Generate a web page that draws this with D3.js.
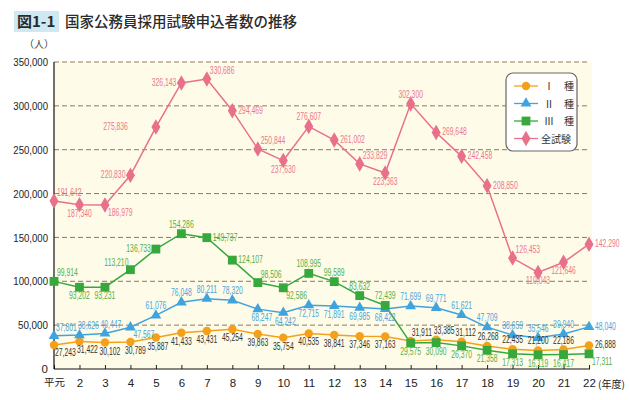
<!DOCTYPE html>
<html><head><meta charset="utf-8">
<script src="https://cdn.jsdelivr.net/npm/d3@7"></script>
<style>
body{margin:0;background:#fff;}
svg{display:block;}
</style></head>
<body>
<svg id="chart" width="630" height="400"></svg>
<script>
const years = ['平元','2','3','4','5','6','7','8','9','10','11','12','13','14','15','16','17','18','19','20','21','22'];
const seriesI = [27243,31422,30102,30789,35887,41433,43431,45254,39863,35754,40535,38841,37346,37163,31911,33385,31112,26268,22435,21200,22186,26888];
const seriesII = [37801,38626,40447,47567,61076,76048,80211,78320,68247,64242,72715,71891,69985,68422,71699,69771,61621,47709,38659,35546,39940,48040];
const seriesIII = [99914,93202,93231,113210,136733,154286,149737,124107,98506,92586,108995,99589,83632,72439,29575,30090,26370,21358,17313,16119,16417,17311];
const seriesAll = [191642,187340,186979,220830,275836,326143,330686,294469,250844,237630,276607,261002,233829,223363,302300,269648,242458,208850,126453,110043,121646,142290];
const yTicks = [0,50000,100000,150000,200000,250000,300000,350000];
const legendNames = ['Ⅰ　種','Ⅱ　種','Ⅲ　種','全試験'];

// label placement codes: direction + optional dx override
const placeI   = ['br1','b8','b5','b5','b2','b','b','b','b','b','b','b','b','b','ar1','a8','a4','a1','a','a','a','r'];
const placeII  = ['ar2','a9','a6','br','a','a','a','a','b4','b2','b','b','b','b','a','a','a','a','a','a','a','r'];
const placeIII = ['ar','b','b','al','l','a','r','r','ar','br','a','a','a','a','b','b','b','b','b','b','b','br'];
const placeAll = ['ar','b','br','l','L','l','ar','r','ar','b','a','r','ar','b','a','r','r','r','ar','b','b','r'];

const svg = d3.select('#chart');
const x = d3.scalePoint().domain(years).range([54, 589]);
const y = d3.scaleLinear().domain([0, 350000]).range([369, 62]);

// title
svg.append('rect').attr('x',14).attr('y',11).attr('width',45).attr('height',21).attr('fill','#cfe8f2');
svg.append('text').attr('x',17).attr('y',27).text('図1-1')
  .attr('font-family','"Noto Sans CJK JP", sans-serif').attr('font-size',15).attr('font-weight',700).attr('fill','#2b2b2b');
svg.append('text').attr('x',65).attr('y',27).text('国家公務員採用試験申込者数の推移')
  .attr('font-family','"Noto Sans CJK JP", sans-serif').attr('font-size',14.5).attr('font-weight',500).attr('fill','#2b2b2b');
svg.append('text').attr('x',24).attr('y',48).text('（人）')
  .attr('font-family','"Noto Sans CJK JP", sans-serif').attr('font-size',10).attr('fill','#444');

// plot background
svg.append('rect').attr('x',54).attr('y',y(350000)).attr('width',538).attr('height',y(0)-y(350000)).attr('fill','#fefbe9');

// gridlines
svg.append('g').selectAll('line').data(yTicks.filter(d=>d>0)).join('line')
  .attr('x1',54).attr('x2',590).attr('y1',d=>y(d)).attr('y2',d=>y(d))
  .attr('stroke','#8d7a58').attr('stroke-width',1).attr('stroke-dasharray','5,3');

const fmt = d3.format(',');
// y axis
const yAxis = svg.append('g').attr('transform','translate(54,0)')
  .call(d3.axisLeft(y).tickValues(yTicks).tickFormat(fmt).tickSize(0).tickPadding(6));
yAxis.select('.domain').remove();
yAxis.selectAll('text').attr('font-family','"Liberation Sans", sans-serif').attr('font-size',11.5).attr('fill','#222')
  .each(function(d){ const s = fmt(d); if (s.length>1){ d3.select(this).attr('textLength', s.length*4.6+2.5).attr('lengthAdjust','spacingAndGlyphs'); } });

// x axis
const xAxis = svg.append('g').attr('transform','translate(0,369)')
  .call(d3.axisBottom(x).tickSizeInner(-4).tickSizeOuter(0).tickPadding(10));
xAxis.select('.domain').remove();
xAxis.selectAll('line').attr('stroke','#222');
xAxis.selectAll('text').attr('font-family','"Liberation Sans", sans-serif').attr('font-size',11.5).attr('fill','#222');
xAxis.selectAll('text').filter(d=>d==='平元').attr('font-family','"Noto Sans CJK JP", sans-serif').attr('font-size',10.5);
svg.append('text').attr('x',598).attr('y',388).text('(年度)')
  .attr('font-family','"Noto Sans CJK JP", sans-serif').attr('font-size',10).attr('fill','#222');

// axis lines
svg.append('line').attr('x1',54).attr('x2',54).attr('y1',62).attr('y2',369).attr('stroke','#111').attr('stroke-width',1.2);
svg.append('line').attr('x1',54).attr('x2',590).attr('y1',369).attr('y2',369).attr('stroke','#111').attr('stroke-width',1.2);

const series = [
  {name: legendNames[0], values: seriesI, color:'#f5a01a', label:'#333333', sym:d3.symbolCircle, size:56, place:placeI},
  {name: legendNames[1], values: seriesII, color:'#3fa3dd', label:'#4aa6dc', sym:d3.symbolTriangle, size:50, place:placeII},
  {name: legendNames[2], values: seriesIII, color:'#36a83c', label:'#52b148', sym:d3.symbolSquare, size:78, place:placeIII},
  {name: legendNames[3], values: seriesAll, color:'#e9708a', label:'#ec7789', sym:d3.symbolDiamond, size:70, place:placeAll}
];

const off = {
  a:['middle',0,-6], b:['middle',0,12],
  r:['start',6,3], l:['end',-5,3],
  ar:['start',3,-5], al:['end',-2,-4], br:['start',3,11], bl:['end',-3,11], L:['end',-28,3]
};
function placement(code){
  const m = code.match(/^([a-zA-Z]+)(-?\d+)?$/);
  const base = off[m[1]];
  return [base[0], m[2]!==undefined ? +m[2] : base[1], base[2]];
}

const line = d3.line().x((d,i)=>x(years[i])).y(d=>y(d));
const gS = svg.append('g');
series.forEach(s=>{
  gS.append('path').datum(s.values).attr('d',line).attr('fill','none').attr('stroke',s.color).attr('stroke-width',1.5);
});
series.forEach(s=>{
  gS.append('g').selectAll('path').data(s.values).join('path')
    .attr('transform',(d,i)=>`translate(${x(years[i])},${y(d)})`)
    .attr('d',d3.symbol().type(s.sym).size(s.size)).attr('fill',s.color);
});
series.forEach(s=>{
  gS.append('g').selectAll('text').data(s.values).join('text')
    .attr('transform',(d,i)=>{
      const p = placement(s.place[i]);
      return `translate(${x(years[i])+p[1]},${y(d)+p[2]}) scale(0.68,1)`;
    })
    .attr('text-anchor',(d,i)=>placement(s.place[i])[0])
    .attr('font-family','"Liberation Sans", sans-serif')
    .attr('font-size',10)
    .attr('fill',s.label).text(d=>fmt(d));
});

// legend
const lg = svg.append('g');
lg.append('rect').attr('x',506).attr('y',73).attr('width',71).attr('height',78).attr('rx',7)
  .attr('fill','#fff').attr('stroke','#666').attr('stroke-width',1.2);
const ly = [86,103.5,121,138.5];
series.forEach((s,i)=>{
  lg.append('line').attr('x1',514).attr('x2',538).attr('y1',ly[i]).attr('y2',ly[i]).attr('stroke',s.color).attr('stroke-width',1.3);
  lg.append('path').attr('transform',`translate(526,${ly[i]})`).attr('d',d3.symbol().type(s.sym).size(s.size)).attr('fill',s.color);
  lg.append('text').attr('x',i<3?544:541).attr('y',ly[i]+4).text(s.name)
    .attr('font-family','"Noto Sans CJK JP", sans-serif').attr('font-size',10).attr('fill','#333');
});
</script>
</body></html>
